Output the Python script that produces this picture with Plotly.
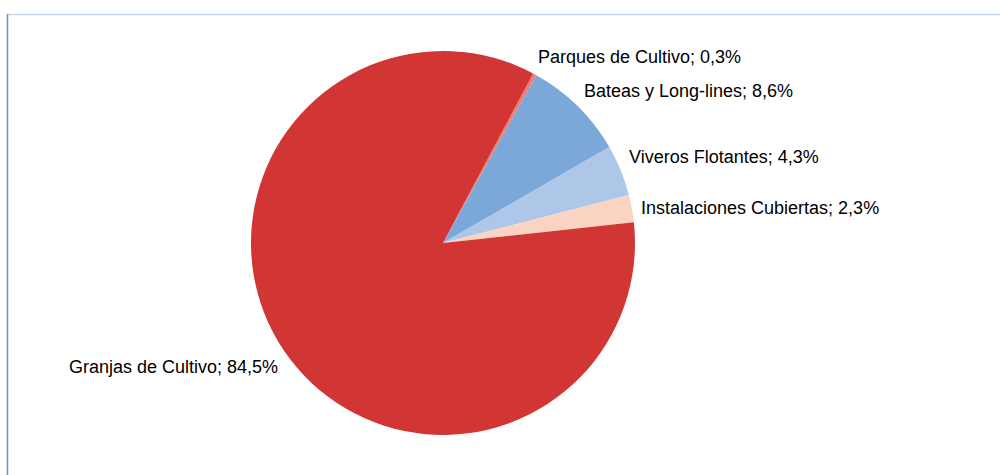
import plotly.graph_objects as go

# slices in clockwise order starting from ~1 o'clock
labels = ["Parques de Cultivo", "Bateas y Long-lines", "Viveros Flotantes",
          "Instalaciones Cubiertas", "Granjas de Cultivo"]
values = [0.3, 8.6, 4.3, 2.3, 84.5]
colors = ["#F47A6A", "#7BA7D9", "#AEC6E8", "#FAD3C3", "#D13635"]

# label anchor points (paper coords, left edge / middle)
label_pos = [(0.536, 1 - 57 / 475), (0.582, 1 - 91 / 475), (0.627, 1 - 157 / 475),
             (0.639, 1 - 208 / 475), (0.067, 1 - 367 / 475)]

fig = go.Figure()
fig.add_trace(
    go.Pie(
        labels=labels,
        values=values,
        marker=dict(colors=colors, line=dict(width=0)),
        sort=False,
        direction="clockwise",
        rotation=28,
        textinfo="none",
        hoverinfo="label+percent",
        showlegend=False,
        domain=dict(x=[0.251, 0.635], y=[1 - 435 / 475, 1 - 51 / 475]),
    )
)

for lab, val, (x, y) in zip(labels, values, label_pos):
    txt = f"{lab}; {val:.1f}%".replace(".", ",")
    fig.add_annotation(x=x, y=y, xref="paper", yref="paper", text=txt,
                       showarrow=False, xanchor="left", yanchor="middle",
                       font=dict(family="Liberation Sans, Arial", size=18, color="#000000"))

# chart frame (top and left edges visible)
fig.add_shape(type="line", xref="paper", yref="paper", x0=0.0075, x1=1.0,
              y0=1 - 14.5 / 475, y1=1 - 14.5 / 475, line=dict(color="#C6D5E5", width=1.5))
fig.add_shape(type="line", xref="paper", yref="paper", x0=0.0075, x1=0.0075,
              y0=0, y1=1 - 14 / 475, line=dict(color="#6C8EBF", width=1.5))

fig.update_layout(
    width=1000,
    height=475,
    margin=dict(l=0, r=0, t=0, b=0),
    paper_bgcolor="white",
    plot_bgcolor="white",
)

fig.write_html("out.html", config={"displayModeBar": False},
               post_script="document.body.style.margin='0';")
